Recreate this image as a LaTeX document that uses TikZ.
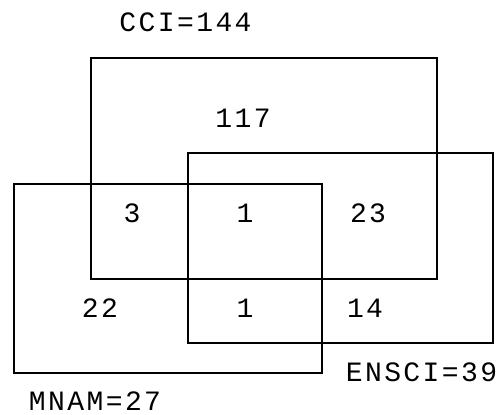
\documentclass[tikz,border=0pt]{standalone}
\usepackage{fontspec}
\setmonofont[LetterSpace=8.6]{Liberation Mono}
\usepackage{tikz}
\usetikzlibrary{positioning}

\begin{document}
\begin{tikzpicture}[
    x=0.5pt, y=-0.5pt,
    setbox/.style={draw, line width=0.8pt},
    count/.style={font=\ttfamily\fontsize{14}{17}\selectfont, inner sep=0pt},
    setname/.style={font=\ttfamily\fontsize{14}{17}\selectfont, inner sep=0pt},
]
    \useasboundingbox (0,0) rectangle (502,415);

    % Sets
    \draw[setbox] (91,58) rectangle (437,279);
    \draw[setbox] (188,153) rectangle (493,343);
    \draw[setbox] (14,184) rectangle (322,373);

    % Set names
    \node[setname] (cci) at (185.5,22) {CCI=144};
    \node[setname] (ensci) at (421.5,372) {ENSCI=39};
    \node[setname] (mnam) at (95,401) {MNAM=27};

    % Counts
    \node[count] (n117) at (243,118) {117};
    \node[count] (n3) at (132,213) {3};
    \node[count] (n1a) at (245,213) {1};
    \node[count] (n23) at (368,213) {23};
    \node[count] (n22) at (100,308) {22};
    \node[count] (n1b) at (245,308) {1};
    \node[count] (n14) at (365,308) {14};
\end{tikzpicture}
\end{document}
